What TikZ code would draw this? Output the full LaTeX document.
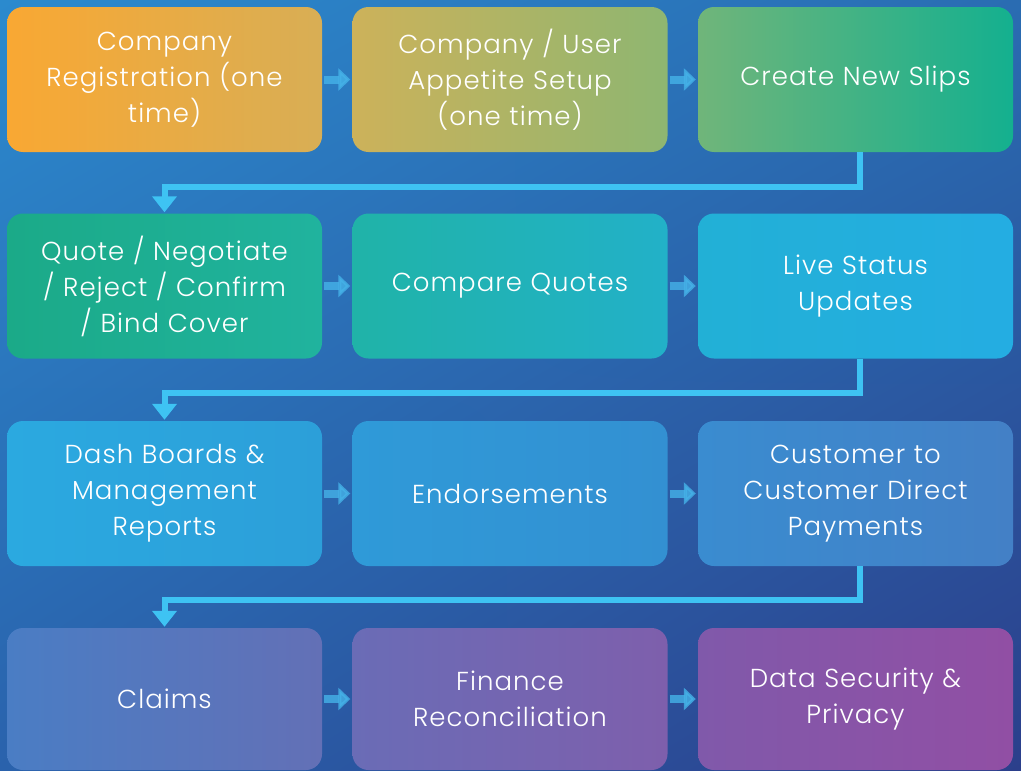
\documentclass[tikz,border=0pt]{standalone}
\usepackage{fontspec}
\setmainfont{Poppins Light}[LetterSpace=4]
\usetikzlibrary{arrows.meta,shadings}
\definecolor{bgA}{HTML}{2B8ACE}
\definecolor{bgB}{HTML}{2A6CB2}
\definecolor{bgC}{HTML}{2A62AC}
\definecolor{bgD}{HTML}{2B3F8B}
\definecolor{linkc}{HTML}{3EC3F3}
\definecolor{arrc}{HTML}{45B2E8}
\definecolor{c1l}{HTML}{F9A833}\definecolor{c1r}{HTML}{D8AE55}
\definecolor{c2l}{HTML}{CDB25A}\definecolor{c2r}{HTML}{8EB671}
\definecolor{c3l}{HTML}{70B57A}\definecolor{c3r}{HTML}{14B08F}
\definecolor{c4l}{HTML}{1BAA88}\definecolor{c4r}{HTML}{20B39E}
\definecolor{c5l}{HTML}{20B3A8}\definecolor{c5r}{HTML}{22B1C8}
\definecolor{c6l}{HTML}{22B0D6}\definecolor{c6r}{HTML}{24ADE2}
\definecolor{c7l}{HTML}{2BA9E0}\definecolor{c7r}{HTML}{2C9FD9}
\definecolor{c8l}{HTML}{2F9AD8}\definecolor{c8r}{HTML}{3390D2}
\definecolor{c9l}{HTML}{3A8CD0}\definecolor{c9r}{HTML}{4380C6}
\definecolor{c10l}{HTML}{4A7DC4}\definecolor{c10r}{HTML}{6370B6}
\definecolor{c11l}{HTML}{6A6CB6}\definecolor{c11r}{HTML}{7E5FAC}
\definecolor{c12l}{HTML}{8059AA}\definecolor{c12r}{HTML}{914FA4}
\tikzset{
  box/.style={rounded corners=16pt, minimum width=315pt, minimum height=145pt,
    text width=305pt, align=center, text=white, inner sep=0pt,
    font=\fontsize{26}{36}\selectfont},
  harrow/.style={arrc, opacity=0.8, line width=8pt,
    -{Triangle[length=12pt,width=22pt]}, shorten <=2pt, shorten >=2pt},
  link/.style={linkc, line width=6pt,
    -{Triangle[length=16pt,width=24pt]}, shorten >=1pt}
}
\begin{document}
\begin{tikzpicture}[x=1pt,y=-1pt]
\useasboundingbox (0,0) rectangle (1021,771);
\shade[upper left=bgA, upper right=bgB, lower left=bgC, lower right=bgD] (0,0) rectangle (1021,771);
% row 1
\node[box, left color=c1l, right color=c1r] (b1) at (164.5,79.5) {Company\\Registration (one\\time)};
\node[box, left color=c2l, right color=c2r] (b2) at (510,79.5) {Company / User\\Appetite Setup\\(one time)};
\node[box, left color=c3l, right color=c3r] (b3) at (855.5,79.5) {Create New Slips};
% row 2
\node[box, left color=c4l, right color=c4r] (b4) at (164.5,286) {Quote / Negotiate\\/ Reject / Confirm\\/ Bind Cover};
\node[box, left color=c5l, right color=c5r] (b5) at (510,286) {Compare Quotes};
\node[box, left color=c6l, right color=c6r] (b6) at (855.5,286) {Live Status\\Updates};
% row 3
\node[box, left color=c7l, right color=c7r] (b7) at (164.5,493.5) {Dash Boards \&\\Management\\Reports};
\node[box, left color=c8l, right color=c8r] (b8) at (510,493.5) {Endorsements};
\node[box, left color=c9l, right color=c9r] (b9) at (855.5,493.5) {Customer to\\Customer Direct\\Payments};
% row 4
\node[box, left color=c10l, right color=c10r, minimum height=142pt] (b10) at (164.5,699) {Claims};
\node[box, left color=c11l, right color=c11r, minimum height=142pt] (b11) at (510,699) {Finance\\Reconciliation};
\node[box, left color=c12l, right color=c12r, minimum height=142pt] (b12) at (855.5,699) {Data Security \&\\Privacy};
% horizontal arrows
\foreach \a/\b in {b1/b2,b2/b3,b4/b5,b5/b6,b7/b8,b8/b9,b10/b11,b11/b12}
  \draw[harrow] (\a.east) -- (\b.west);
% row links
\coordinate (t1) at (860,187);
\coordinate (t2) at (860,393);
\coordinate (t3) at (860,600);
\draw[link] (b3.south -| t1) |- (t1 -| b4.south) -- (b4.north);
\draw[link] (b6.south -| t2) |- (t2 -| b7.south) -- (b7.north);
\draw[link] (b9.south -| t3) |- (t3 -| b10.south) -- (b10.north);
\end{tikzpicture}
\end{document}
